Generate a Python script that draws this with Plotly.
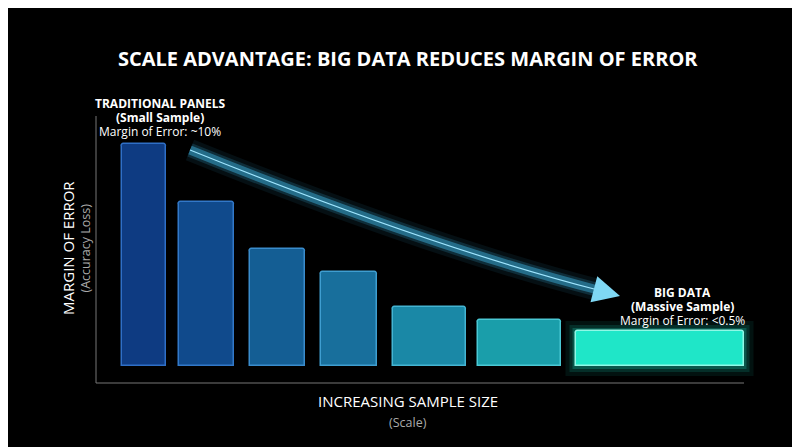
import plotly.graph_objects as go

# bars: estimated margin of error (relative units) by sample size step
steps = ["1", "2", "3", "4", "5", "6", "7"]
error_values = [222, 164, 117, 94, 59, 46, 35]
centers = [136, 198.5, 269.5, 341, 421.5, 511.5, 651.5]
widths = [44, 55, 55, 56, 73, 83, 168]
fills = ["#0e3b82", "#104a8c", "#145e94", "#186f9c", "#1a88a6", "#1a9eaa", "#1fe6c8"]
lines = ["#2f6fc6", "#3278c8", "#3a8ccc", "#3f9ed0", "#44b4d2", "#4ac8d4", "#8ff8e6"]

fig = go.Figure()

# glow behind the big-data bar
for pad, op in [(10, 0.08), (6, 0.14), (3, 0.22)]:
    fig.add_shape(type="rect", x0=centers[6] - widths[6] / 2 - pad, x1=centers[6] + widths[6] / 2 + pad,
                  y0=-pad, y1=error_values[6] + pad, line_width=0, fillcolor="#1fe6c8", opacity=op, layer="below")

fig.add_trace(go.Bar(
    x=centers, y=error_values, width=widths, text=steps, textposition="none",
    marker=dict(color=fills, line=dict(color=lines, width=1.5), cornerradius=3),
    hoverinfo="y",
))

# curved glowing arrow
path = "M 182,216 Q 420,120 590,76"
for w, op in [(22, 0.08), (14, 0.18), (9, 0.45)]:
    fig.add_shape(type="path", path=path, line=dict(color="#3fb8e8", width=w), opacity=op)
fig.add_shape(type="path", path=path, line=dict(color="#9fe6ff", width=1.2))

# axes lines
fig.add_shape(type="line", x0=88, x1=736, y0=-17, y1=-17, line=dict(color="#777", width=1))
fig.add_shape(type="line", x0=88, x1=88, y0=-17, y1=250, line=dict(color="#777", width=1))

texts = [
    (400, 50, "<b>SCALE ADVANTAGE: BIG DATA REDUCES MARGIN OF ERROR</b>", 20),
    (152, 95, "<b>TRADITIONAL PANELS</b>", 12),
    (152, 109, "<b>(Small Sample)</b>", 12),
    (152, 124, "Margin of Error: ~10%", 12),
    (674, 284, "<b>BIG DATA</b>", 12),
    (674, 298, "<b>(Massive Sample)</b>", 12),
    (674, 312, "Margin of Error: <0.5%", 12),
    (400, 393, "INCREASING SAMPLE SIZE", 15),
]
for px, py, t, s in texts:
    fig.add_annotation(x=px / 800, y=1 - py / 447, xref="paper", yref="paper", text=t, showarrow=False,
                       font=dict(size=s, color="#ffffff", family="Open Sans"), xanchor="center", yanchor="middle")
fig.add_annotation(x=400 / 800, y=1 - 414 / 447, xref="paper", yref="paper", text="(Scale)", showarrow=False,
                   font=dict(size=12.5, color="#aaaaaa", family="Open Sans"), yanchor="middle")
fig.add_annotation(x=48 / 800, y=1 - 240 / 447, xref="paper", yref="paper", text="MARGIN OF ERROR", textangle=-90,
                   showarrow=False, font=dict(size=15, color="#ffffff", family="Open Sans"))
fig.add_annotation(x=66 / 800, y=1 - 240 / 447, xref="paper", yref="paper", text="(Accuracy Loss)", textangle=-90,
                   showarrow=False, font=dict(size=12.5, color="#aaaaaa", family="Open Sans"))

# arrow head
fig.add_annotation(x=612, y=70, ax=585, ay=77, xref="x", yref="y", axref="x", ayref="y",
                   text="", showarrow=True, arrowhead=2, arrowsize=1.8, arrowwidth=3, arrowcolor="#7fd8f4")

fig.update_layout(
    width=800, height=447, autosize=False,
    paper_bgcolor="#000000", plot_bgcolor="#000000",
    margin=dict(l=0, r=0, t=0, b=0),
    showlegend=False, bargap=0,
    xaxis=dict(range=[0, 800], visible=False, fixedrange=True),
    yaxis=dict(range=[-89, 358], visible=False, fixedrange=True),
)

fig.write_html("out.html")
